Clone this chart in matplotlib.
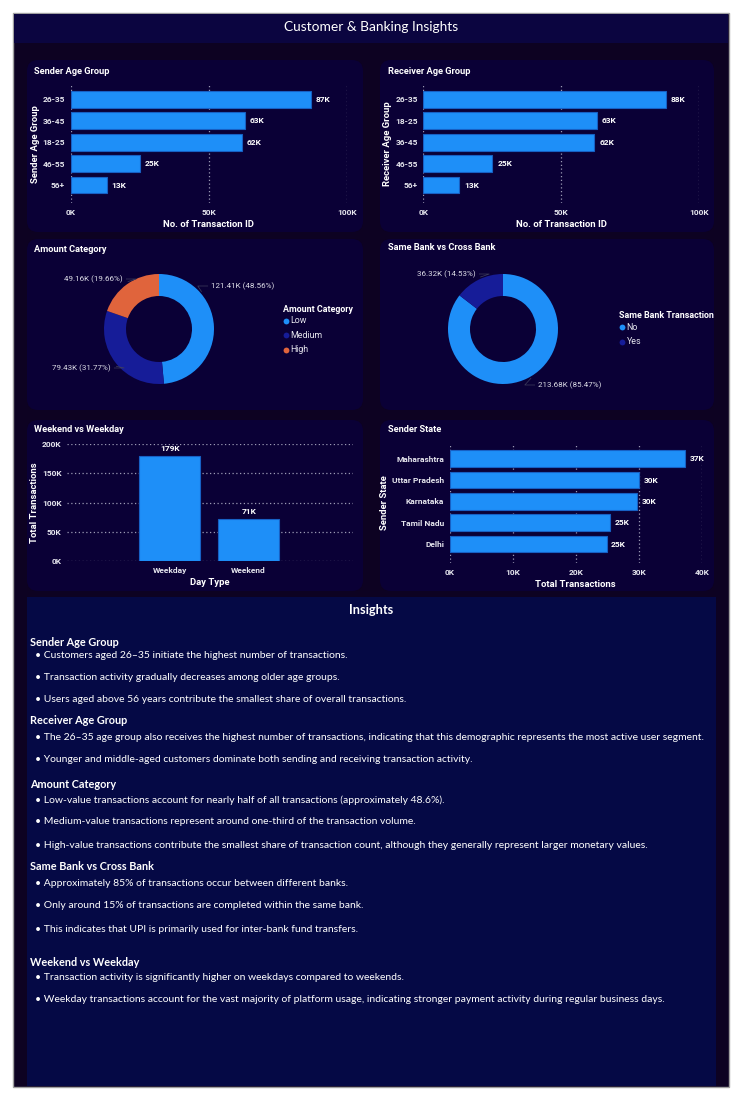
import matplotlib
matplotlib.use("Agg")
import matplotlib.pyplot as plt
from matplotlib import font_manager
from matplotlib.patches import FancyBboxPatch, Rectangle
import numpy as np

# ---------------- data ----------------
sender_age = ["26-35", "36-45", "18-25", "46-55", "56+"]
sender_cnt = [87, 63, 62, 25, 13]          # thousands
receiver_age = ["26-35", "18-25", "36-45", "46-55", "56+"]
receiver_cnt = [88, 63, 62, 25, 13]        # thousands
amount_cat = ["Low", "Medium", "High"]
amount_val = [121.41, 79.43, 49.16]        # thousands
amount_pct = [48.56, 31.77, 19.66]
bank_cat = ["No", "Yes"]
bank_val = [213.68, 36.32]
bank_pct = [85.47, 14.53]
day_type = ["Weekday", "Weekend"]
day_val = [179, 71]
states = ["Maharashtra", "Uttar Pradesh", "Karnataka", "Tamil Nadu", "Delhi"]
state_val = [37.4, 30.1, 29.8, 25.4, 24.9]

insights = [
    ("Sender Age Group", [
        "Customers aged 26\u201335 initiate the highest number of transactions.",
        "Transaction activity gradually decreases among older age groups.",
        "Users aged above 56 years contribute the smallest share of overall transactions."]),
    ("Receiver Age Group", [
        "The 26\u201335 age group also receives the highest number of transactions, indicating that this demographic represents the most active user segment.",
        "Younger and middle-aged customers dominate both sending and receiving transaction activity."]),
    ("Amount Category", [
        "Low-value transactions account for nearly half of all transactions (approximately 48.6%).",
        "Medium-value transactions represent around one-third of the transaction volume.",
        "High-value transactions contribute the smallest share of transaction count, although they generally represent larger monetary values."]),
    ("Same Bank vs Cross Bank", [
        "Approximately 85% of transactions occur between different banks.",
        "Only around 15% of transactions are completed within the same bank.",
        "This indicates that UPI is primarily used for inter-bank fund transfers."]),
    ("Weekend vs Weekday", [
        "Transaction activity is significantly higher on weekdays compared to weekends.",
        "Weekday transactions account for the vast majority of platform usage, indicating stronger payment activity during regular business days."]),
]
head_y = [642, 721, 784, 867, 962]
bullet_y = [[655, 678, 700], [737, 760], [800, 822, 845], [883, 906, 929], [977, 1000]]

# ---------------- style ----------------
W, H = 742, 1100
avail = {f.name for f in font_manager.fontManager.ttflist}
def pick(cands):
    for c in cands:
        if c in avail:
            return c
    return "DejaVu Sans"
TXT_FONT = pick(["Liberation Sans Narrow", "Lato", "Open Sans", "Liberation Sans"])
CH_FONT = pick(["DejaVu Sans Condensed", "Liberation Sans Narrow", "Roboto", "Liberation Sans"])
plt.rcParams["font.family"] = [CH_FONT, "DejaVu Sans"]

BG_DASH = "#0d0222"
BG_HEAD = "#0b0540"
BG_PANEL = "#0a0036"
BG_INS = "#050945"
BLUE = "#1e8ff8"
BLUE_EDGE = "#1760c4"
NAVY = "#161c98"
ORANGE = "#e0643c"
GRID = "#9a9ab4"
TICK = "#e6e6ee"
FS_TICK = 6.0

fig = plt.figure(figsize=(W / 100, H / 100), dpi=100, facecolor="white")
renderer = fig.canvas.get_renderer()

def fit(s, target, family, weight="normal"):
    t = fig.text(0, 0, s, fontsize=10, family=family, weight=weight)
    w = t.get_window_extent(renderer).width
    t.remove()
    return 10 * target / w

bg = fig.add_axes([0, 0, 1, 1], zorder=0)
bg.set_xlim(0, W)
bg.set_ylim(H, 0)
bg.axis("off")

bg.add_patch(Rectangle((13, 13), 716, 1074, facecolor=BG_DASH, edgecolor="#a0a0a0", lw=1))
bg.add_patch(Rectangle((14, 14), 714, 29, facecolor=BG_HEAD, edgecolor="none"))
bg.text(371, 27, "Customer & Banking Insights", color="white", ha="center", va="center",
        fontsize=fit("Customer & Banking Insights", 175, TXT_FONT), family=TXT_FONT)

panels = [(27, 60, 363, 232), (380, 60, 714, 232),
          (27, 239, 363, 410), (380, 239, 714, 410),
          (27, 420, 363, 591), (380, 420, 714, 591)]
for x0, y0, x1, y1 in panels:
    bg.add_patch(FancyBboxPatch((x0 + 11, y0 + 11), x1 - x0 - 22, y1 - y0 - 22,
                                boxstyle="round,pad=11", facecolor=BG_PANEL, edgecolor="none"))
bg.add_patch(Rectangle((27, 597), 689, 489, facecolor=BG_INS, edgecolor="none"))

ptitles = [("Sender Age Group", 34, 71), ("Receiver Age Group", 388, 72),
           ("Amount Category", 34, 249), ("Same Bank vs Cross Bank", 388, 248),
           ("Weekend vs Weekday", 34, 430), ("Sender State", 388, 430)]
tsize = fit("Sender Age Group", 76, CH_FONT, "bold")
for s, x, y in ptitles:
    bg.text(x, y, s, color="white", fontsize=tsize, weight="bold", ha="left", va="center")

def px_axes(x0, y0, x1, y1):
    ax = fig.add_axes([x0 / W, 1 - y1 / H, (x1 - x0) / W, (y1 - y0) / H], zorder=2)
    ax.set_facecolor("none")
    for s in ax.spines.values():
        s.set_visible(False)
    return ax

def hbar(ax, cats, vals, xmax, step, ylab, xlab, ylim):
    y = np.arange(len(cats))
    ax.barh(y, vals, height=0.78, color=BLUE, edgecolor=BLUE_EDGE, lw=0.8, zorder=3)
    ax.set_xlim(0, xmax)
    ax.set_ylim(*ylim)
    ax.set_yticks(y)
    ax.set_yticklabels(cats)
    ticks = np.arange(0, xmax + 0.1, step)
    ax.set_xticks(ticks)
    ax.set_xticklabels([f"{int(t)}K" for t in ticks])
    ax.tick_params(length=0, labelsize=FS_TICK, colors=TICK, pad=4)
    for lab in ax.get_xticklabels() + ax.get_yticklabels():
        lab.set_fontweight("bold")
    for t in ticks:
        ax.axvline(t, color=GRID, ls=(0, (1, 2)), lw=0.9, zorder=1)
    for yi, v in zip(y, vals):
        ax.text(v + xmax * 0.018, yi, f"{round(v):.0f}K", color="white", fontsize=FS_TICK,
                weight="bold", va="center", ha="left")
    ax.set_ylabel(ylab, color="white", fontsize=6.8, weight="bold", labelpad=2)
    ax.set_xlabel(xlab, color="white", fontsize=6.8, weight="bold", labelpad=3)

ax1 = px_axes(70.7, 85, 346.7, 203)
hbar(ax1, sender_age, sender_cnt, 100, 50, "Sender Age Group", "No. of Transaction ID", (4.84, -0.67))
ax2 = px_axes(423.3, 85, 699, 203)
hbar(ax2, receiver_age, receiver_cnt, 100, 50, "Receiver Age Group", "No. of Transaction ID", (4.84, -0.67))
ax6 = px_axes(449.7, 443, 701.7, 563)
hbar(ax6, states, state_val, 40, 10, "Sender State", "Total Transactions", (4.89, -0.74))

# weekend vs weekday
ax5 = px_axes(67, 444, 353, 561)
xs = np.arange(len(day_type))
ax5.bar(xs, day_val, width=0.77, color=BLUE, edgecolor=BLUE_EDGE, lw=0.8, zorder=3)
ax5.set_xlim(-1.3, 2.32)
ax5.set_ylim(0, 200)
yt = np.arange(0, 201, 50)
ax5.set_yticks(yt)
ax5.set_yticklabels([f"{t}K" for t in yt])
ax5.set_xticks(xs)
ax5.set_xticklabels(day_type)
ax5.tick_params(length=0, labelsize=FS_TICK, colors=TICK, pad=4)
for lab in ax5.get_xticklabels() + ax5.get_yticklabels():
    lab.set_fontweight("bold")
for t in yt:
    ax5.axhline(t, color=GRID, ls=(0, (1, 2)), lw=0.9, zorder=1)
for xi, v in zip(xs, day_val):
    ax5.text(xi, v + 7, f"{v}K", color="white", fontsize=FS_TICK, weight="bold", ha="center", va="bottom")
ax5.set_ylabel("Total Transactions", color="white", fontsize=6.8, weight="bold", labelpad=2)
ax5.set_xlabel("Day Type", color="white", fontsize=6.8, weight="bold", labelpad=3)

# donuts (radius 55 px)
def donut_axes(cx, cy, vals, pcts, colors, label_px, aligns):
    x0, x1, y0, y1 = cx - 140, cx + 140, cy - 70, cy + 70
    ax = px_axes(x0, y0, x1, y1)
    wedges, _ = ax.pie(vals, colors=colors, startangle=90, counterclock=False, radius=1,
                       wedgeprops=dict(width=0.4, edgecolor="none"))
    ax.set_aspect("equal")
    ax.set_xlim(-140 / 55, 140 / 55)
    ax.set_ylim(-70 / 55, 70 / 55)
    for v, p, (lx, ly), ha in zip(vals, pcts, label_px, aligns):
        dx, dy = (lx - cx) / 55, (cy - ly) / 55
        gap = 0.06 if ha == "right" else -0.06
        tx = dx + gap
        ang = np.arctan2(dy, tx)
        ex, ey = 1.03 * np.cos(ang), 1.03 * np.sin(ang)
        mx = tx + (-0.18 if ha == "left" else 0.18)
        ax.plot([ex, mx, tx], [ey, dy, dy], color="#3e3e5e", lw=0.5)
        ax.text(dx, dy, f"{v:.2f}K ({p:.2f}%)", color="#dcdce6", fontsize=5.8,
                ha=ha, va="center")
    ax.axis("off")
    return ax

donut_axes(159, 329, amount_val, amount_pct, [BLUE, NAVY, ORANGE],
           [(211, 286), (111, 368), (123, 279)], ["left", "right", "right"])
donut_axes(503, 329, bank_val, bank_pct, [BLUE, NAVY],
           [(538, 385), (476, 274)], ["left", "right"])

# legends
def legend(x, y, title, items, colors, dy):
    bg.text(x, y, title, color="white", fontsize=6.4, weight="bold", va="center", ha="left")
    for i, (s, c) in enumerate(zip(items, colors)):
        yy = y + dy * (i + 1) - 3
        bg.plot(x + 3, yy, "o", ms=4.2, color=c, mec="none")
        bg.text(x + 7.5, yy, s, color="#e6e6ee", fontsize=6.4, va="center", ha="left")

legend(283, 309, "Amount Category", amount_cat, [BLUE, NAVY, ORANGE], 14.5)
legend(619, 315, "Same Bank Transaction", bank_cat, [BLUE, NAVY], 15)

# insights
bg.text(371, 610, "Insights", color="white", weight="bold", ha="center", va="center",
        fontsize=fit("Insights", 44, TXT_FONT, "bold"), family=TXT_FONT)
hsize = fit("Receiver Age Group", 98, TXT_FONT, "bold")
longest = max((b for _, bl in insights for b in bl), key=len)
bsize = fit("\u2022 " + longest, 670, TXT_FONT)
for (h, bl), hy, bys in zip(insights, head_y, bullet_y):
    bg.text(30, hy, h, color="white", weight="bold", fontsize=hsize, va="center", ha="left",
            family=TXT_FONT)
    for b, by in zip(bl, bys):
        bg.text(35, by, "\u2022 " + b, color="white", fontsize=bsize, va="center", ha="left",
                family=TXT_FONT)

fig.savefig("out.png", dpi=100, facecolor="white")
